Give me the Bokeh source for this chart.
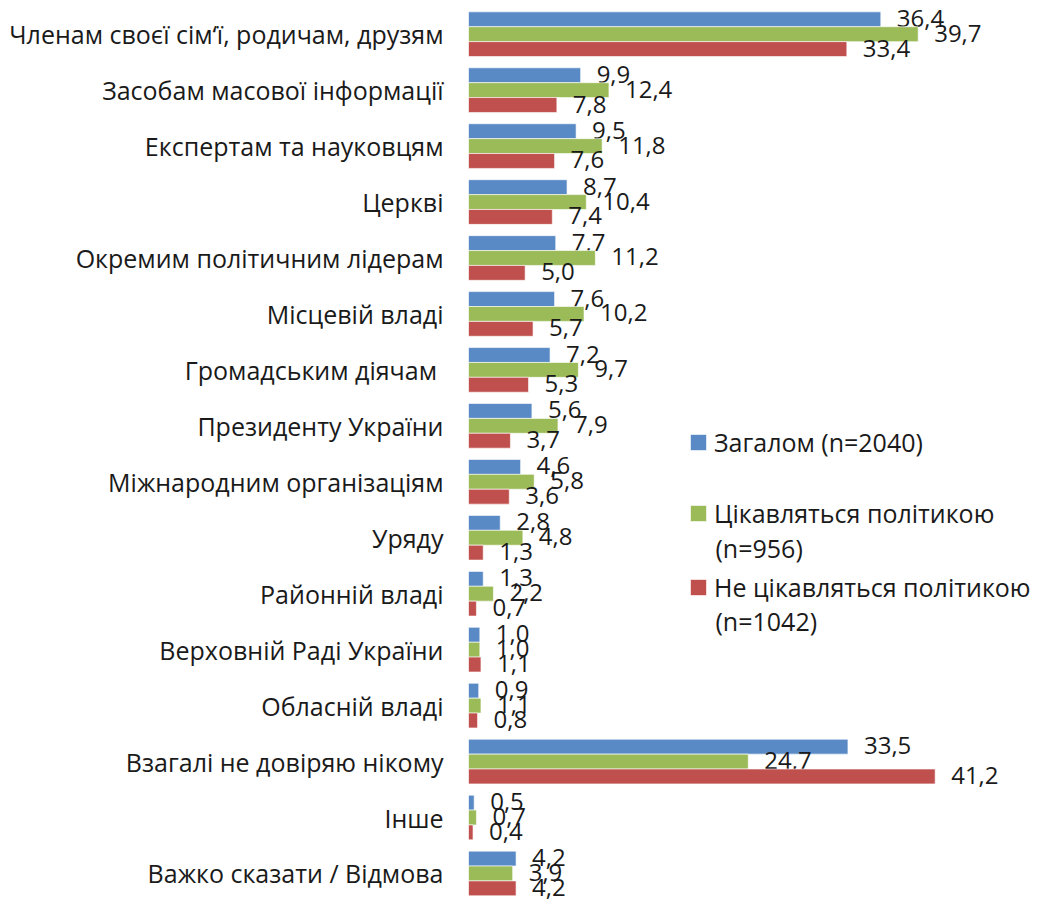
from bokeh.plotting import figure
from bokeh.models import ColumnDataSource, Range1d, FixedTicker, Legend, LegendItem, Label
from bokeh.transform import dodge
from bokeh.core.properties import value
from bokeh.embed import file_html
from bokeh.resources import INLINE

categories = [
    "Членам своєї сім‘ї, родичам, друзям",
    "Засобам масової інформації",
    "Експертам та науковцям",
    "Церкві",
    "Окремим політичним лідерам",
    "Місцевій владі",
    "Громадським діячам ",
    "Президенту України",
    "Міжнародним організаціям",
    "Уряду",
    "Районній владі",
    "Верховній Раді України",
    "Обласній владі",
    "Взагалі не довіряю нікому",
    "Інше",
    "Важко сказати / Відмова",
]
total = [36.4, 9.9, 9.5, 8.7, 7.7, 7.6, 7.2, 5.6, 4.6, 2.8, 1.3, 1.0, 0.9, 33.5, 0.5, 4.2]
interested = [39.7, 12.4, 11.8, 10.4, 11.2, 10.2, 9.7, 7.9, 5.8, 4.8, 2.2, 1.0, 1.1, 24.7, 0.7, 3.9]
not_interested = [33.4, 7.8, 7.6, 7.4, 5.0, 5.7, 5.3, 3.7, 3.6, 1.3, 0.7, 1.1, 0.8, 41.2, 0.4, 4.2]
series_first = ["Загалом (n=2040)", "Цікавляться політикою", "Не цікавляться політикою"]
series_second = [None, "(n=956)", "(n=1042)"]
colors = ["#5A8AC6", "#9BBB59", "#C0504D"]

FONT = "Open Sans"
FS = "25px"
FS_LAB = "24px"
TXT = "#1a1a1a"
idx = list(range(len(categories)))

p = figure(width=1040, height=900, output_backend="svg", toolbar_location=None,
           x_range=Range1d(0, 50.5), y_range=Range1d(15.483, -0.602),
           x_axis_location=None, min_border_left=468, min_border_right=0,
           min_border_top=0, min_border_bottom=0)
p.outline_line_color = None
p.grid.visible = False
p.background_fill_color = "white"

ya = p.yaxis[0]
ya.ticker = FixedTicker(ticks=idx)
ya.major_label_overrides = {i: c for i, c in zip(idx, categories)}
ya.axis_line_color = None
ya.major_tick_line_color = None
ya.minor_tick_line_color = None
ya.major_tick_out = 0
ya.major_tick_in = 0
ya.major_label_standoff = 25
ya.major_label_text_font = FONT
ya.major_label_text_font_size = FS
ya.major_label_text_color = TXT

bh = 0.266
offsets = [-bh, 0.0, bh]
renderers = []
for vals, col, off in zip([total, interested, not_interested], colors, offsets):
    src = ColumnDataSource(dict(y=idx, v=vals, lab=[f"{x:.1f}".replace(".", ",") for x in vals]))
    r = p.hbar(y=dodge("y", off), right="v", left=0, height=bh, source=src,
               fill_color=col, line_color="white", line_alpha=0.6, line_width=1)
    renderers.append(r)
    p.text(x="v", y=dodge("y", off), text="lab", source=src, x_offset=16, y_offset=-1,
           text_baseline="middle", text_align="left", text_font=value(FONT),
           text_font_size=FS_LAB, text_color=TXT)

leg_locs = [(220, 441), (220, 370), (220, 296)]
second_y = [None, 353, 280]
for name, second, r, loc, sy in zip(series_first, series_second, renderers, leg_locs, second_y):
    lg = Legend(items=[LegendItem(label=name, renderers=[r])], location=loc,
                background_fill_alpha=0, border_line_color=None, padding=0, margin=0,
                label_text_font=FONT, label_text_font_size=FS, label_text_color=TXT,
                glyph_width=20, glyph_height=20, label_standoff=6, spacing=0)
    p.add_layout(lg)
    if second:
        p.add_layout(Label(x=247, y=sy, x_units="screen", y_units="screen", text=second,
                           text_font=FONT, text_font_size=FS, text_color=TXT,
                           text_baseline="middle", text_align="left"))

open("out.html", "w").write(file_html(p, INLINE))
